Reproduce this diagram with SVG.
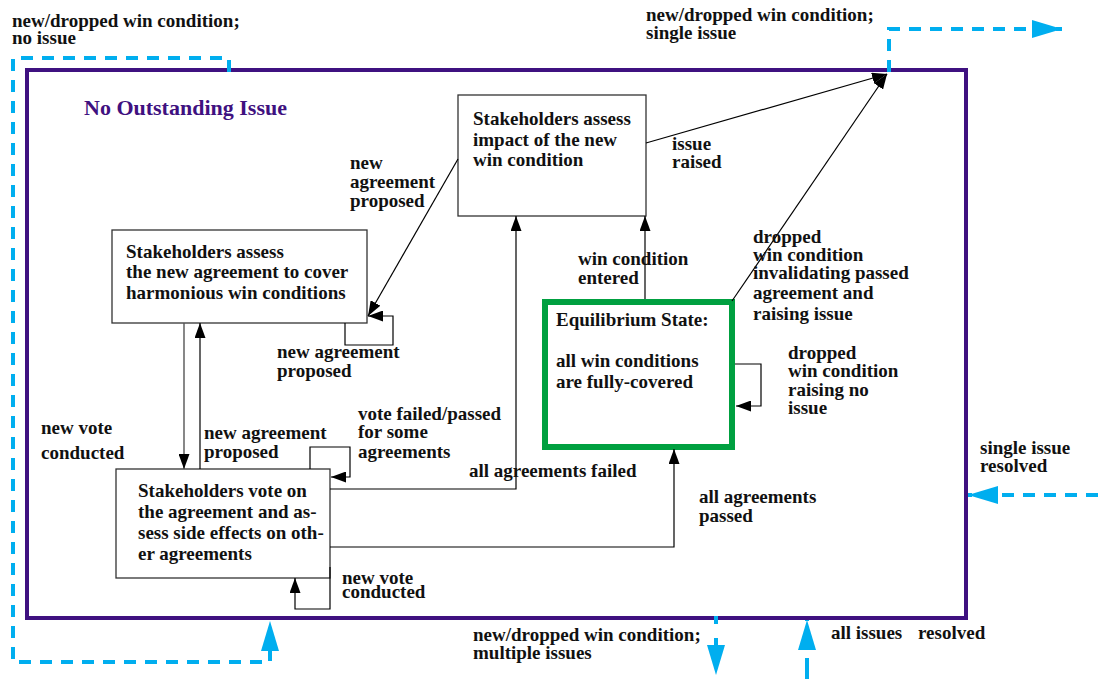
<svg xmlns="http://www.w3.org/2000/svg" width="1098" height="679" viewBox="0 0 1098 679">
  <defs>
    <style>
      text { font-family: "Liberation Serif", "Times New Roman", serif; font-weight: bold; font-size: 19px; fill: #111; }
      .title { font-size: 22px; fill: #3f1180; }
      .state { fill: #fff; stroke: #333; stroke-width: 1.3; }
      .eq { fill: #fff; stroke: #00a040; stroke-width: 6; }
      .frame { fill: none; stroke: #3f1180; stroke-width: 4; }
      .edge { fill: none; stroke: #000; stroke-width: 1.2; }
      .edge-gray { fill: none; stroke: #555; stroke-width: 1.4; }
      .flow { fill: none; stroke: #00aeef; stroke-width: 4; stroke-dasharray: 12 9; }
    </style>
    <marker id="arr" markerUnits="userSpaceOnUse" markerWidth="15" markerHeight="11" refX="15" refY="5.5" orient="auto">
      <path d="M0,0 L15,5.5 L0,11 z" fill="#000"/>
    </marker>
    <marker id="arrBlue" markerUnits="userSpaceOnUse" markerWidth="30" markerHeight="18" refX="30" refY="9" orient="auto">
      <path d="M0,0 L30,9 L0,18 z" fill="#00aeef"/>
    </marker>
  </defs>

  <rect width="1098" height="679" fill="#fff"/>

  <!-- super-state frame -->
  <g id="no-outstanding-issue">
    <rect class="frame" x="27" y="70" width="939" height="548"/>
    <text class="title" x="84" y="115">No Outstanding Issue</text>
  </g>

  <!-- states -->
  <g id="assess-impact">
    <rect class="state" x="458" y="95" width="188" height="121"/>
    <text x="473" y="125">Stakeholders assess</text>
    <text x="473" y="146">impact of the new</text>
    <text x="473" y="166">win condition</text>
  </g>

  <g id="assess-agreement">
    <rect class="state" x="112" y="230" width="255" height="93"/>
    <text x="126" y="258">Stakeholders assess</text>
    <text x="126" y="278">the new agreement to cover</text>
    <text x="126" y="299">harmonious win conditions</text>
  </g>

  <g id="vote">
    <rect class="state" x="116" y="469" width="214" height="109"/>
    <text x="138" y="497">Stakeholders vote on</text>
    <text x="138" y="518">the agreement and as-</text>
    <text x="138" y="539">sess side effects on oth-</text>
    <text x="138" y="560">er agreements</text>
  </g>

  <g id="equilibrium">
    <rect class="eq" x="545" y="302" width="187" height="145"/>
    <text x="556" y="326">Equilibrium State:</text>
    <text x="556" y="367">all win conditions</text>
    <text x="556" y="388">are fully-covered</text>
  </g>

  <!-- transitions -->
  <g id="connectors">
    <!-- issue raised / invalidating drop, both leave through the top-right exit -->
    <path class="edge" d="M646,143 L887,74" marker-end="url(#arr)"/>
    <path class="edge" d="M732,301 L887,74" marker-end="url(#arr)"/>
    <!-- impact assessed: new agreement proposed -->
    <path class="edge" d="M458,159 L368,316" marker-end="url(#arr)"/>
    <!-- self loop on agreement assessment -->
    <path class="edge" d="M345,323 L345,345 L393,345 L393,316 L368,316" marker-end="url(#arr)"/>
    <!-- agreement assessment to vote and back -->
    <path class="edge-gray" d="M184,323 L184,469" marker-end="url(#arr)"/>
    <path class="edge" d="M200,469 L200,323" marker-end="url(#arr)"/>
    <!-- vote self loop: failed/passed for some -->
    <path class="edge" d="M310,469 L310,447 L350,447 L350,477 L331,477" marker-end="url(#arr)"/>
    <!-- all agreements failed -->
    <path class="edge" d="M330,489 L516,489 L516,216" marker-end="url(#arr)"/>
    <!-- all agreements passed -->
    <path class="edge" d="M330,547 L674,547 L674,449" marker-end="url(#arr)"/>
    <!-- new vote conducted loop -->
    <path class="edge" d="M330,567 L330,609 L295,609 L295,578" marker-end="url(#arr)"/>
    <!-- win condition entered -->
    <path class="edge" d="M645,299 L645,216" marker-end="url(#arr)"/>
    <!-- dropped win condition raising no issue -->
    <path class="edge" d="M735,364 L761,364 L761,406 L736,406" marker-end="url(#arr)"/>

    <!-- flows into and out of the super-state -->
    <path class="flow" d="M229,72 L229,58 L13,58 L13,662 L270,662 L270,621" marker-end="url(#arrBlue)"/>
    <path class="flow" d="M889,72 L889,29 L1062,29" marker-end="url(#arrBlue)"/>
    <path class="flow" d="M1098,495 L968,495" marker-end="url(#arrBlue)"/>
    <path class="flow" d="M716,616 L716,675" style="stroke-dasharray: 8 14" marker-end="url(#arrBlue)"/>
    <path class="flow" d="M807,679 L807,620" style="stroke-dasharray: 21 8" marker-end="url(#arrBlue)"/>
  </g>

  <!-- transition labels -->
  <g id="labels">
    <text x="12" y="27">new/dropped win condition;</text>
    <text x="12" y="44">no issue</text>
    <text x="646" y="21">new/dropped win condition;</text>
    <text x="646" y="39">single issue</text>
    <text x="672" y="150">issue</text>
    <text x="672" y="168">raised</text>
    <text x="350" y="169">new</text>
    <text x="350" y="188">agreement</text>
    <text x="350" y="207">proposed</text>
    <text x="753" y="243">dropped</text>
    <text x="753" y="261">win condition</text>
    <text x="753" y="279">invalidating passed</text>
    <text x="753" y="299">agreement and</text>
    <text x="753" y="320">raising issue</text>
    <text x="578" y="265">win condition</text>
    <text x="578" y="284">entered</text>
    <text x="277" y="358">new agreement</text>
    <text x="277" y="377">proposed</text>
    <text x="788" y="359">dropped</text>
    <text x="788" y="377">win condition</text>
    <text x="788" y="396">raising no</text>
    <text x="788" y="414">issue</text>
    <text x="41" y="434">new vote</text>
    <text x="41" y="459">conducted</text>
    <text x="204" y="439">new agreement</text>
    <text x="204" y="458">proposed</text>
    <text x="358" y="420">vote failed/passed</text>
    <text x="358" y="438">for some</text>
    <text x="358" y="458">agreements</text>
    <text x="469" y="477">all agreements failed</text>
    <text x="699" y="503">all agreements</text>
    <text x="699" y="522">passed</text>
    <text x="980" y="454">single issue</text>
    <text x="980" y="472">resolved</text>
    <text x="342" y="584">new vote</text>
    <text x="342" y="598">conducted</text>
    <text x="473" y="641">new/dropped win condition;</text>
    <text x="473" y="659">multiple issues</text>
    <text x="831" y="639">all issues</text>
    <text x="918" y="639">resolved</text>
  </g>
</svg>
